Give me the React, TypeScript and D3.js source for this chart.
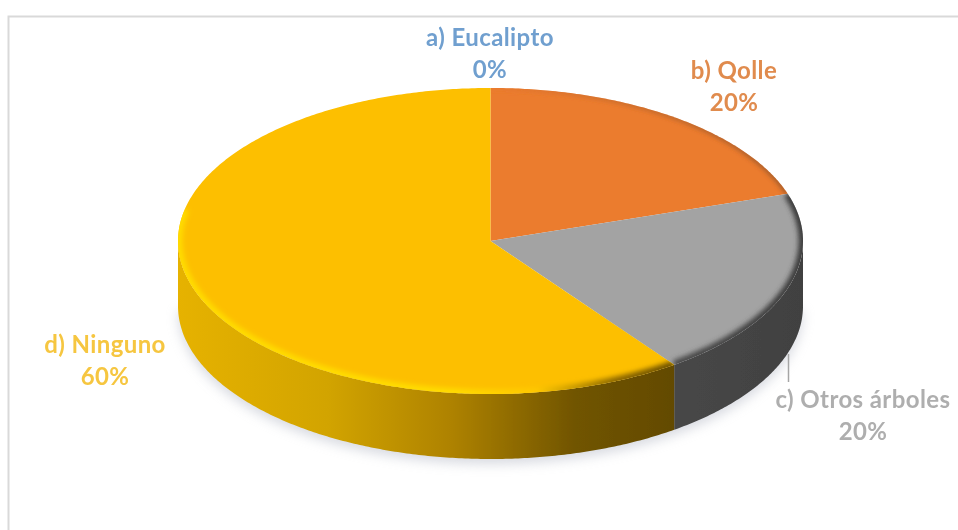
import React from "react";
import * as d3 from "d3";

const categories = ["a) Eucalipto", "b) Qolle", "c) Otros árboles", "d) Ninguno"];
const values = [0, 20, 20, 60];
const percentLabels = ["0%", "20%", "20%", "60%"];
const topColors = ["#5B9BD5", "#EB7B2E", "#A3A3A3", "#FDBF00"];
const labelColors = ["#6F9FCF", "#E08B4E", "#AEAEAE", "#F6C640"];

const W = 958, H = 530;
const cx = 490.5, cy = 241, rx = 312.5, ry = 153, depth = 65;
const labelFont = "Lato, 'Open Sans', sans-serif";

type P = [number, number];
const pt = (a: number, dy = 0): P => [cx + rx * Math.sin(a), cy + dy - ry * Math.cos(a)];
const samples = (a0: number, a1: number): number[] => {
  const n = Math.max(2, Math.ceil(Math.abs(a1 - a0) / 0.01));
  const s = d3.scaleLinear().domain([0, n]).range([a0, a1]);
  return d3.range(n + 1).map((i) => s(i));
};
const line = d3.line<P>();
const topPath = (a0: number, a1: number) =>
  line([[cx, cy], ...samples(a0, a1).map((a) => pt(a))])! + "Z";
const rimPath = (a0: number, a1: number) => line(samples(a0, a1).map((a) => pt(a)))!;
const sidePath = (a0: number, a1: number) => {
  const ss = samples(a0, a1);
  return (
    line([...ss.map((a) => pt(a)), ...ss.slice().reverse().map((a) => pt(a, depth))])! + "Z"
  );
};

const arcs = d3.pie<number>().sort(null).value((d) => d)(values);
const sideRange = (s: { startAngle: number; endAngle: number }): [number, number] | null => {
  const a0 = Math.max(s.startAngle, Math.PI / 2);
  const a1 = Math.min(s.endAngle, (3 * Math.PI) / 2);
  return a1 > a0 ? [a0, a1] : null;
};
const rimEnd = (s: { endAngle: number }) => Math.min(s.endAngle, (282 / 180) * Math.PI);
const sideFill = ["#444", "#7a3f14", "url(#sideGray)", "url(#sideYellow)"];
const rimStroke = ["none", "url(#rimOrange)", "url(#rimGray)", "url(#rimYellow)"];

const labelPos: { x: number; y: number }[] = [
  { x: 490, y: 46 },
  { x: 734, y: 79 },
  { x: 863, y: 408 },
  { x: 105, y: 353 },
];

export default function App() {
  return (
    <svg
      width={W}
      height={H}
      viewBox={`0 0 ${W} ${H}`}
      style={{ position: "absolute", left: 0, top: 0, background: "#fff" }}
    >
      <defs>
        <linearGradient id="sideYellow" gradientUnits="userSpaceOnUse" x1={178} x2={676} y1={0} y2={0}>
          <stop offset="0" stopColor="#E6B200" />
          <stop offset="0.3" stopColor="#D2A400" />
          <stop offset="0.55" stopColor="#AE8200" />
          <stop offset="0.8" stopColor="#705400" />
          <stop offset="1" stopColor="#634A00" />
        </linearGradient>
        <linearGradient id="sideGray" gradientUnits="userSpaceOnUse" x1={676} x2={803} y1={0} y2={0}>
          <stop offset="0" stopColor="#474747" />
          <stop offset="1" stopColor="#414141" />
        </linearGradient>
        <linearGradient id="rimYellow" gradientUnits="userSpaceOnUse" x1={178} x2={676} y1={0} y2={0}>
          <stop offset="0" stopColor="#FFDC00" />
          <stop offset="0.55" stopColor="#FFDC00" />
          <stop offset="0.72" stopColor="#FFC800" />
          <stop offset="0.88" stopColor="#8A6600" />
          <stop offset="1" stopColor="#6A4F00" />
        </linearGradient>
        <linearGradient id="rimGray" gradientUnits="userSpaceOnUse" x1={676} x2={803} y1={0} y2={0}>
          <stop offset="0" stopColor="#4A4A4A" />
          <stop offset="1" stopColor="#3A3A3A" />
        </linearGradient>
        <linearGradient id="rimOrange" gradientUnits="userSpaceOnUse" x1={490} x2={780} y1={0} y2={0}>
          <stop offset="0" stopColor="#EB7B2E" />
          <stop offset="1" stopColor="#7A4A2A" />
        </linearGradient>
        <filter id="shadow" x="-10%" y="-10%" width="120%" height="130%">
          <feGaussianBlur stdDeviation="6" />
        </filter>
        <filter id="rimBlur" x="-5%" y="-5%" width="110%" height="110%">
          <feGaussianBlur stdDeviation="2.6" />
        </filter>
        <filter id="soft" x="-5%" y="-5%" width="110%" height="110%">
          <feGaussianBlur stdDeviation="0.55" />
        </filter>
        {arcs.map((s, i) => (
          <clipPath id={`clip${i}`} key={i}>
            <path d={topPath(s.startAngle, s.endAngle)} />
          </clipPath>
        ))}
      </defs>

      <path d={`M8.5 530V16.5H${W}`} fill="none" stroke="#D9D9D9" strokeWidth={2} />

      <path
        d={line(samples(Math.PI / 2, (3 * Math.PI) / 2).map((a) => pt(a, depth + 5)))!}
        fill="#B8BCC8"
        opacity={0.55}
        filter="url(#shadow)"
      />

      <g filter="url(#soft)">
        {arcs.map((s, i) => {
          const r = sideRange(s);
          return r ? <path key={i} d={sidePath(r[0], r[1])} fill={sideFill[i]} /> : null;
        })}

        {arcs.map((s, i) =>
          s.endAngle > s.startAngle ? (
            <g key={i}>
              <path d={topPath(s.startAngle, s.endAngle)} fill={topColors[i]} />
              <g clipPath={`url(#clip${i})`}>
                <path
                  d={rimPath(s.startAngle, rimEnd(s))}
                  fill="none"
                  stroke={rimStroke[i]}
                  strokeWidth={i === 1 ? 3 : 9}
                  filter="url(#rimBlur)"
                />
              </g>
            </g>
          ) : null
        )}
      </g>

      <path d="M788.5 354V382" stroke="#A5A5A5" strokeWidth={1.5} />

      <g
        filter="url(#soft)"
        fontFamily={labelFont}
        fontWeight={700}
        fontSize={24}
        letterSpacing={0.4}
        textAnchor="middle"
      >
        {categories.map((c, i) => (
          <text key={c} x={labelPos[i].x} y={labelPos[i].y} fill={labelColors[i]}>
            <tspan x={labelPos[i].x}>{c}</tspan>
            <tspan x={labelPos[i].x} dy={31.5}>
              {percentLabels[i]}
            </tspan>
          </text>
        ))}
      </g>
    </svg>
  );
}
